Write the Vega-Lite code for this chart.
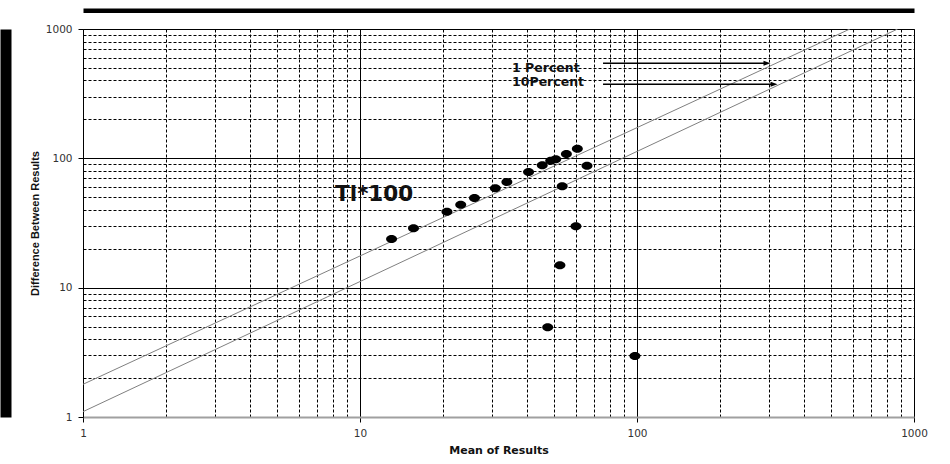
{
  "$schema": "https://vega.github.io/schema/vega-lite/v6.json",
  "width": 831,
  "height": 388,
  "autosize": {"type": "none"},
  "padding": {"left": 83, "top": 29, "right": 36, "bottom": 47},
  "background": "white",
  "config": {"view": {"stroke": "#555555", "strokeWidth": 1}, "font": "DejaVu Sans"},
  "datasets": {
    "refLines": [
      {"line": "1 Percent", "x": 1, "y": 1.79},
      {"line": "1 Percent", "x": 587, "y": 1000},
      {"line": "10Percent", "x": 1, "y": 1.10},
      {"line": "10Percent", "x": 873, "y": 1000}
    ],
    "points": [
      {"mean": 13.0, "diff": 23.8},
      {"mean": 15.6, "diff": 28.8},
      {"mean": 20.6, "diff": 38.7},
      {"mean": 23.1, "diff": 43.8},
      {"mean": 25.9, "diff": 49.4},
      {"mean": 30.8, "diff": 58.7},
      {"mean": 33.9, "diff": 65.6},
      {"mean": 40.6, "diff": 78.4},
      {"mean": 45.5, "diff": 88.3},
      {"mean": 48.8, "diff": 95.9},
      {"mean": 50.9, "diff": 98.3},
      {"mean": 55.6, "diff": 108},
      {"mean": 60.9, "diff": 118.7},
      {"mean": 66.0, "diff": 87.7},
      {"mean": 53.7, "diff": 60.8},
      {"mean": 60.2, "diff": 29.8},
      {"mean": 52.7, "diff": 14.9},
      {"mean": 47.6, "diff": 4.94},
      {"mean": 98.3, "diff": 2.96}
    ],
    "arrows": [
      {"arrow": "a1", "x": 75.4, "y": 543},
      {"arrow": "a1", "x": 294.6, "y": 543},
      {"arrow": "a2", "x": 75.4, "y": 373.7},
      {"arrow": "a2", "x": 312.4, "y": 373.7}
    ],
    "heads": [
      {"x": 294.6, "y": 543},
      {"x": 312.4, "y": 373.7}
    ],
    "labels": [
      {"text": "1 Percent", "x": 35.4, "y": 499},
      {"text": "10Percent", "x": 35.4, "y": 389}
    ],
    "bigLabel": [
      {"text": "Tl*100", "x": 8.13, "y": 46.8}
    ]
  },
  "resolve": {"axis": {"x": "independent", "y": "independent"}},
  "layer": [
    {
      "data": {"name": "refLines"},
      "mark": {"type": "line", "color": "#808080", "strokeWidth": 1, "clip": true},
      "encoding": {
        "x": {
          "field": "x", "type": "quantitative",
          "scale": {"type": "log", "domain": [1, 1000], "nice": false},
          "axis": {
            "values": [1,2,3,4,5,6,7,8,9,10,20,30,40,50,60,70,80,90,100,200,300,400,500,600,700,800,900,1000],
            "labelExpr": "(datum.value == 1 || datum.value == 10 || datum.value == 100 || datum.value == 1000) ? format(datum.value, 'd') : ''",
            "grid": true,
            "gridColor": "#000000",
            "gridWidth": 1,
            "gridDash": {"condition": {"test": "datum.value == 1 || datum.value == 10 || datum.value == 100 || datum.value == 1000", "value": []}, "value": [3, 2]},
            "tickOpacity": {"condition": {"test": "datum.value == 1 || datum.value == 10 || datum.value == 100 || datum.value == 1000", "value": 1}, "value": 0},
            "tickSize": 5,
            "tickColor": "#000000",
            "domainColor": "#a0a0a0",
            "domainWidth": 2,
            "labelFont": "DejaVu Sans",
            "labelFontSize": 10.5,
            "labelColor": "#333333",
            "labelPadding": 6,
            "labelFlush": false,
            "labelOverlap": false,
            "title": "Mean of Results",
            "titleFont": "DejaVu Sans",
            "titleFontSize": 11,
            "titleFontWeight": "bold",
            "titleColor": "#111111",
            "titlePadding": 6
          }
        },
        "y": {
          "field": "y", "type": "quantitative",
          "scale": {"type": "log", "domain": [1, 1000], "nice": false},
          "axis": {
            "values": [1,2,3,4,5,6,7,8,9,10,20,30,40,50,60,70,80,90,100,200,300,400,500,600,700,800,900,1000],
            "labelExpr": "(datum.value == 1 || datum.value == 10 || datum.value == 100 || datum.value == 1000) ? format(datum.value, 'd') : ''",
            "grid": true,
            "gridColor": "#000000",
            "gridWidth": 1,
            "gridDash": {"condition": {"test": "datum.value == 1 || datum.value == 10 || datum.value == 100 || datum.value == 1000", "value": []}, "value": [3, 2]},
            "tickOpacity": {"condition": {"test": "datum.value == 1 || datum.value == 10 || datum.value == 100 || datum.value == 1000", "value": 1}, "value": 0},
            "tickSize": 5,
            "tickColor": "#000000",
            "domainColor": "#000000",
            "domainWidth": 1,
            "labelFont": "DejaVu Sans",
            "labelFontSize": 10.5,
            "labelColor": "#333333",
            "labelPadding": 6,
            "labelFlush": false,
            "labelOverlap": false,
            "title": "Difference Between Results",
            "titleFont": "Liberation Sans",
            "titleFontSize": 11,
            "titleFontWeight": "bold",
            "titleColor": "#111111",
            "titlePadding": 5
          }
        },
        "detail": {"field": "line", "type": "nominal"}
      }
    },
    {
      "data": {"name": "points"},
      "mark": {"type": "point", "filled": true, "color": "#000000", "opacity": 1, "strokeWidth": 0, "size": 121, "shape": "M-1,0A1,0.73,0,1,1,1,0A1,0.73,0,1,1,-1,0Z"},
      "encoding": {
        "x": {"field": "mean", "type": "quantitative", "axis": {"orient": "top", "offset": 18.75, "domainColor": "#000000", "domainWidth": 4.5, "ticks": false, "labels": false, "grid": false, "title": null}},
        "y": {"field": "diff", "type": "quantitative", "axis": {"orient": "left", "offset": 77.5, "domainColor": "#000000", "domainWidth": 11, "ticks": false, "labels": false, "grid": false, "title": null}}
      }
    },
    {
      "data": {"name": "arrows"},
      "mark": {"type": "line", "color": "#000000", "strokeWidth": 1.5},
      "encoding": {
        "x": {"field": "x", "type": "quantitative", "axis": null},
        "y": {"field": "y", "type": "quantitative", "axis": null},
        "detail": {"field": "arrow", "type": "nominal"}
      }
    },
    {
      "data": {"name": "heads"},
      "mark": {"type": "point", "filled": true, "color": "#000000", "opacity": 1, "strokeWidth": 0, "size": 49, "shape": "M-1,-0.7L1,0L-1,0.7Z"},
      "encoding": {
        "x": {"field": "x", "type": "quantitative", "axis": null},
        "y": {"field": "y", "type": "quantitative", "axis": null}
      }
    },
    {
      "data": {"name": "labels"},
      "mark": {"type": "text", "align": "left", "baseline": "middle", "font": "DejaVu Sans", "fontWeight": "bold", "fontSize": 12.5, "color": "#111111"},
      "encoding": {
        "x": {"field": "x", "type": "quantitative", "axis": null},
        "y": {"field": "y", "type": "quantitative", "axis": null},
        "text": {"field": "text"}
      }
    },
    {
      "data": {"name": "bigLabel"},
      "mark": {"type": "text", "align": "left", "baseline": "alphabetic", "font": "DejaVu Sans", "fontWeight": "bold", "fontSize": 21.5, "color": "#111111"},
      "encoding": {
        "x": {"field": "x", "type": "quantitative", "axis": null},
        "y": {"field": "y", "type": "quantitative", "axis": null},
        "text": {"field": "text"}
      }
    }
  ]
}
